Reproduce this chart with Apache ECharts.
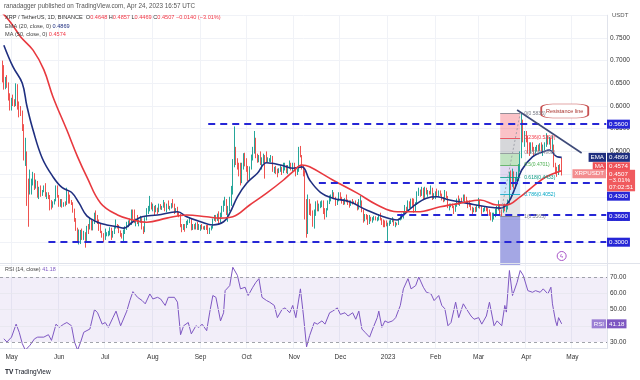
<!DOCTYPE html>
<html><head><meta charset="utf-8">
<script src="https://cdn.jsdelivr.net/npm/echarts@6/dist/echarts.min.js"></script>
<style>html,body{margin:0;padding:0;background:#fff}#c{width:640px;height:380px}</style>
</head><body><div id="c"></div>
<script>
// ---------- DATA (XRP/USDT daily, Binance) ----------
const axisStart = '2022-04-24';      // first slot of the time scale
const axisDays = 395;                // slots on the time scale (incl. right margin)
const firstCandleDate = '2022-04-25';
const firstOpen = 0.695;             // each later candle opens at the previous close
const closes = [
 .686,.643,.656,.650,.620,.597,
 .613,.610,.603,.645,.605,.597,.585,.555,.490,.490,.425,.418,.425,.432,.452,.422,.430,.400,.418,.407,.412,.420,.404,.404,.400,.391,.381,.385,.392,.420,.402,
 .383,.392,.381,.386,.384,.410,.402,.390,.385,.370,.350,.330,.306,.322,.323,.308,.318,.312,.333,.330,.345,.330,.343,.360,.355,.345,.330,.322,.316,.312,
 .316,.320,.322,.330,.316,.320,.333,.336,.335,.325,.318,.311,.325,.330,.340,.345,.340,.366,.362,.345,.350,.342,.345,.352,.333,.324,.350,.368,.371,.380,.375,
 .377,.370,.371,.369,.381,.376,.377,.385,.372,.380,.376,.376,.382,.380,.370,.372,.362,.360,.338,.329,.338,.337,.343,.345,.350,.330,.338,.330,.340,.330,.330,
 .335,.332,.330,.335,.332,.321,.330,.333,.350,.356,.350,.357,.350,.360,.372,.385,.392,.365,.375,.395,.410,.478,.492,.480,.468,.455,.440,.472,.490,.482,
 .462,.443,.463,.488,.500,.520,.490,.482,.488,.478,.480,.490,.482,.480,.480,.482,.487,.460,.460,.458,.456,.460,.462,.455,.462,.466,.458,.465,.472,.462,.468,
 .460,.452,.458,.505,.490,.463,.452,.385,.320,.390,.382,.365,.345,.360,.382,.372,.380,.380,.388,.370,.362,.372,.388,.400,.400,.407,.398,.385,.392,.405,
 .398,.392,.385,.395,.392,.390,.383,.390,.385,.388,.385,.380,.385,.390,.370,.350,.360,.356,.342,.355,.350,.350,.355,.350,.352,.358,.352,.347,.345,.342,.338,
 .340,.345,.347,.350,.338,.341,.340,.350,.353,.360,.366,.375,.372,.388,.380,.392,.384,.370,.386,.410,.412,.408,.415,.400,.418,.410,.412,.410,.420,.398,.405,
 .410,.405,.412,.405,.398,.392,.412,.400,.378,.380,.382,.378,.370,.380,.394,.385,.393,.392,.398,.396,.390,.385,.380,.376,.368,.374,.370,.376,
 .392,.378,.370,.372,.374,.372,.368,.362,.352,.362,.362,.370,.372,.378,.368,.366,.380,.372,.380,.390,.450,.428,.453,.430,.440,.450,.465,.490,.545,.536,.538,
 .530,.510,.500,.515,.505,.500,.505,.510,.508,.515,.505,.508,.515,.530,.520,.527,.510,.515,.470,.460,.452,.466,.4648,.4507
];
const highs = [
 .700,.690,.664,.668,.652,.628,
 .618,.625,.615,.650,.648,.610,.600,.590,.560,.530,.500,.440,.460,.440,.455,.452,.438,.435,.422,.425,.415,.425,.430,.410,.410,.404,.393,.390,.395,.425,.425,
 .404,.395,.395,.388,.390,.420,.412,.405,.393,.388,.374,.353,.332,.328,.327,.330,.325,.322,.336,.340,.355,.350,.347,.365,.370,.360,.350,.340,.325,.320,
 .330,.322,.325,.333,.332,.325,.336,.350,.340,.338,.326,.320,.328,.335,.345,.348,.352,.372,.372,.372,.352,.360,.350,.358,.353,.335,.355,.375,.380,.402,.388,
 .385,.380,.382,.376,.385,.384,.380,.393,.388,.385,.392,.380,.386,.395,.385,.375,.378,.367,.362,.340,.340,.340,.347,.350,.355,.352,.340,.340,.343,.345,.340,
 .338,.340,.335,.336,.338,.338,.332,.336,.352,.360,.360,.363,.368,.365,.380,.392,.400,.395,.380,.400,.424,.483,.555,.510,.485,.475,.475,.475,.496,.497,
 .485,.468,.467,.493,.510,.545,.530,.495,.492,.500,.487,.495,.492,.500,.487,.485,.492,.490,.466,.468,.462,.463,.470,.466,.475,.475,.470,.470,.480,.475,.475,
 .475,.465,.462,.510,.512,.492,.470,.458,.395,.405,.395,.385,.370,.372,.390,.392,.385,.390,.392,.392,.375,.375,.392,.403,.405,.415,.410,.400,.395,.410,
 .410,.400,.395,.397,.405,.394,.392,.392,.395,.390,.392,.388,.395,.402,.392,.372,.362,.362,.360,.360,.356,.355,.358,.357,.355,.362,.365,.353,.350,.348,.348,
 .343,.348,.350,.355,.352,.345,.343,.352,.360,.363,.368,.382,.378,.392,.390,.396,.397,.396,.388,.412,.420,.416,.422,.420,.422,.420,.415,.413,.425,.420,.408,
 .412,.418,.414,.414,.407,.400,.415,.412,.402,.385,.385,.385,.380,.385,.396,.403,.396,.398,.405,.405,.400,.392,.392,.385,.378,.376,.378,.382,
 .398,.393,.380,.375,.378,.378,.376,.372,.366,.365,.365,.374,.380,.392,.384,.372,.383,.385,.385,.394,.455,.458,.462,.456,.443,.455,.472,.500,.5836,.570,.545,
 .545,.535,.520,.520,.520,.510,.510,.514,.515,.518,.520,.515,.520,.540,.535,.532,.530,.535,.515,.475,.466,.470,.472,.4857
];
const lows = [
 .652,.636,.637,.640,.612,.590,
 .590,.600,.598,.600,.592,.575,.578,.545,.480,.468,.380,.334,.405,.405,.425,.415,.418,.398,.395,.400,.402,.410,.400,.395,.395,.370,.372,.376,.383,.390,.398,
 .378,.378,.376,.378,.379,.382,.385,.385,.382,.365,.345,.325,.298,.295,.296,.305,.305,.288,.300,.318,.328,.326,.326,.340,.348,.340,.325,.320,.310,.300,
 .305,.313,.313,.315,.305,.310,.318,.330,.330,.320,.312,.308,.301,.318,.327,.333,.338,.338,.350,.342,.335,.340,.335,.343,.328,.318,.322,.348,.362,.368,.372,
 .368,.360,.366,.362,.366,.372,.371,.376,.368,.366,.373,.370,.374,.376,.362,.365,.358,.355,.333,.322,.327,.323,.331,.338,.342,.326,.327,.328,.328,.327,.327,
 .325,.328,.328,.327,.327,.318,.318,.326,.330,.347,.345,.347,.340,.343,.355,.367,.380,.360,.345,.368,.380,.405,.465,.470,.460,.445,.425,.430,.460,.467,
 .455,.435,.438,.460,.480,.495,.485,.475,.476,.470,.460,.474,.440,.476,.476,.477,.476,.455,.452,.450,.443,.452,.455,.448,.452,.458,.452,.450,.462,.458,.455,
 .456,.445,.448,.455,.487,.460,.445,.350,.310,.318,.360,.358,.334,.330,.358,.368,.368,.375,.377,.362,.350,.355,.370,.384,.390,.397,.395,.380,.382,.390,
 .395,.385,.382,.383,.388,.382,.376,.380,.383,.384,.383,.370,.372,.380,.366,.343,.346,.350,.338,.340,.346,.343,.348,.348,.346,.348,.348,.338,.333,.333,.335,
 .302,.336,.340,.344,.336,.333,.337,.338,.348,.350,.352,.362,.365,.370,.375,.375,.380,.365,.368,.382,.402,.400,.402,.395,.395,.405,.400,.405,.405,.393,.395,
 .395,.402,.400,.402,.392,.388,.390,.397,.375,.370,.377,.375,.362,.367,.378,.382,.380,.388,.390,.388,.385,.375,.378,.370,.362,.366,.366,.367,
 .375,.374,.362,.366,.368,.368,.360,.358,.348,.345,.350,.355,.360,.370,.360,.3565,.365,.368,.366,.372,.382,.415,.422,.418,.418,.435,.435,.455,.485,.520,.510,
 .520,.495,.490,.495,.500,.490,.495,.500,.500,.500,.500,.490,.502,.510,.515,.515,.505,.500,.465,.450,.444,.448,.455,.4469
];
// indicator values: [day number since axisStart, value]
const ema20 = [[2,0.734],[8,0.686],[14,0.65],[17,0.60],[21,0.547],[27,0.485],[34,0.444],[40,0.42],[46,0.41],[51,0.386],[56,0.358],[63,0.344],[69,0.338],[76,0.334],[80,0.331],[86,0.345],[92,0.356],[102,0.36],[115,0.367],[121,0.356],[130,0.345],[138,0.338],[145,0.345],[149,0.364],[154,0.40],[160,0.43],[167,0.452],[173,0.475],[182,0.47],[190,0.463],[196,0.466],[201,0.437],[208,0.41],[216,0.397],[227,0.389],[238,0.371],[249,0.356],[258,0.349],[262,0.36],[268,0.378],[277,0.397],[284,0.40],[292,0.393],[303,0.386],[316,0.378],[325,0.375],[330,0.386],[335,0.422],[339,0.459],[346,0.488],[353,0.499],[357,0.503],[362,0.488],[365,0.4869]];
const ma50 = [[1,0.805],[5,0.79],[9,0.772],[13,0.752],[21,0.723],[28,0.68],[34,0.62],[43,0.547],[50,0.488],[56,0.444],[65,0.386],[76,0.36],[86,0.349],[95,0.344],[108,0.353],[121,0.36],[134,0.356],[143,0.353],[151,0.356],[162,0.382],[173,0.408],[184,0.437],[190,0.455],[196,0.47],[201,0.466],[216,0.437],[232,0.408],[245,0.382],[258,0.367],[271,0.367],[286,0.378],[299,0.386],[312,0.393],[323,0.382],[329,0.382],[338,0.40],[346,0.422],[355,0.444],[365,0.4574]];
const rsi14 = [[2,32],[4,30],[7,33],[10,41],[12,36],[14,29],[16,25],[17,24],[19,28],[22,32],[24,33],[28,33],[31,34.5],[33,31],[36,41],[38,39],[41,41],[43,42],[46,40],[48,30],[50,25],[52,30],[54,36],[58,38],[61,50],[63,48],[66,41],[68,42],[70,39],[73,45],[75,49],[78,40],[82,49],[84,55.5],[86,61],[89,57.5],[92,55.5],[94,53.5],[97,59.6],[99,56.5],[102,57.5],[104,56.5],[107,52.5],[109,57.5],[113,57.5],[115,54.5],[117,34.5],[119,40],[122,42],[124,35],[127,40],[129,39],[131,41],[134,37],[136,48.4],[138,58.6],[140,57.5],[143,43],[145,48],[146,61.6],[149,64.7],[151,76],[154,71],[156,62.7],[159,63.7],[161,58.6],[164,63.7],[166,66.7],[168,69],[170,57.5],[173,55.5],[175,54.5],[178,52.5],[180,45],[183,50],[185,51],[188,48],[190,52.5],[192,45],[195,62.7],[197,46],[199,27],[201,34],[204,42],[206,41],[209,43],[211,41],[214,48],[216,49],[219,51],[221,47],[224,48],[226,46],[229,48],[231,44],[233,49],[235,38],[237,36],[240,33],[242,38],[245,45],[246,49],[248,39],[250,43],[252,42],[255,43],[257,45],[260,52.5],[262,62.7],[265,69],[267,62.7],[270,64.7],[272,70],[275,63.7],[277,60.6],[280,59.6],[282,55.5],[285,58.6],[287,52.5],[289,50.4],[291,40],[293,42],[296,54.5],[298,45],[301,53.5],[303,50.4],[306,46],[308,44],[311,45],[313,41],[316,46],[318,54.5],[321,40],[323,43],[326,40],[328,52.5],[329,48.4],[331,74],[333,58.6],[336,66.7],[338,74],[340,71],[343,61.6],[346,60.6],[348,61.6],[351,60.6],[353,62.7],[356,59.6],[358,63.7],[359,53.5],[361,43],[362,40],[363,45],[364,44],[365,41.18]];
// drawings
const supportLines = [{price:0.56, from:'2022-09-06'},{price:0.43, from:'2022-11-17'},{price:0.36, from:'2023-01-07'},{price:0.30, from:'2022-05-25'}];
const resistanceLine = {from:['2023-03-26',0.5912], to:['2023-05-07',0.4965], label:'Resistance line', labelAt:['2023-04-26',0.589]};
const fibFrom = '2023-03-15', fibTo = '2023-03-28';
const fibLevels = ['0','0.236','0.382','0.5','0.618','0.786','1'];
const fibPrices = [0.5836,0.5300,0.4968,0.4701,0.4433,0.4052,0.3565];
const eventMarker = ['2023-04-24',0.2696];
const priceTicks = {min:0.25, max:0.80, step:0.05};
const rsiTicks = {min:26, max:78, step:2};
const monthNames = ['Jan','Feb','Mar','Apr','May','Jun','Jul','Aug','Sep','Oct','Nov','Dec'];
const lastValues = {ema:0.4869, ma:0.4574, close:0.4507, rsi:41.18};

// ---------- BUILD ----------
const FONT = '"Liberation Sans", Arial, sans-serif';
const categories = [];
{ const t0 = Date.parse(axisStart + 'T00:00:00Z');
  for (let d = 0; d < axisDays; d++) categories.push(new Date(t0 + d*86400000).toISOString().slice(0,10)); }
const firstIdx = categories.indexOf(firstCandleDate);
const candles = closes.map((c,k) => [categories[firstIdx+k], k===0 ? firstOpen : closes[k-1], c, lows[k], highs[k]]);
const toCat = arr => arr.map(([d,v]) => [categories[d], v]);
const lastCat = categories[categories.length-1];
const isMonthStart = (i, v) => v.slice(8) === '01';
const monthLabel = v => v.slice(5) === '01-01' ? v.slice(0,4) : monthNames[+v.slice(5,7)-1];

const fibLineColors = ['#787b86','#f23645','#8d8f99','#4caf50','#089981','#00a5c4','#787b86'];
const fibBandColors = ['rgba(242,54,69,0.30)','rgba(120,123,134,0.30)','rgba(76,175,80,0.35)','rgba(149,117,205,0.28)','rgba(33,150,243,0.22)','rgba(120,123,134,0.20)'];

const markLineData = [];
supportLines.forEach(s => markLineData.push([
  {coord:[s.from, s.price], lineStyle:{color:'#2626d6', width:2, type:[7,5]}}, {coord:[lastCat, s.price]}]));
markLineData.push([{coord:resistanceLine.from, lineStyle:{color:'#3e4a78', width:1.6, type:'solid'}}, {coord:resistanceLine.to}]);
fibPrices.forEach((p,k) => markLineData.push([
  {coord:[fibFrom,p], lineStyle:{color:fibLineColors[k], width:0.8, type:'solid'},
   label:{show:true, position:'end', distance:4, formatter: fibLevels[k]+'('+p.toFixed(4)+')', color:fibLineColors[k], fontSize:5, fontFamily:FONT}},
  {coord:[fibTo,p]}]));
markLineData.push([{coord:[fibFrom, fibPrices[6]], lineStyle:{color:'#9598a1', width:0.8, type:[2,2]}}, {coord:[fibTo, fibPrices[0]]}]);

const markAreaData = [];
for (let k = 0; k < 6; k++) markAreaData.push([{coord:[fibFrom, fibPrices[k]], itemStyle:{color:fibBandColors[k]}}, {coord:[fibTo, fibPrices[k+1]]}]);
markAreaData.push([{coord:[fibFrom, fibPrices[6]], itemStyle:{color:'rgba(90,95,205,0.55)'}}, {coord:[fibTo, priceTicks.min]}]);

const chart = echarts.init(document.getElementById('c'), null, {renderer:'canvas'});
const splitLineX = {show:true, interval:isMonthStart, lineStyle:{color:'#f0f2f7', width:1}};
const option = {
  animation:false,
  backgroundColor:'#ffffff',
  textStyle:{fontFamily:FONT},
  grid:[
    {left:0, right:33, top:15.2, height:249.7, outerBoundsMode:'none', containLabel:false},
    {left:0, right:33, top:264, height:84.5, outerBoundsMode:'none', containLabel:false}
  ],
  xAxis:[
    {type:'category', gridIndex:0, data:categories, boundaryGap:true, axisLine:{show:false}, axisTick:{show:false}, axisLabel:{show:false}, splitLine:splitLineX},
    {type:'category', gridIndex:1, data:categories, boundaryGap:true,
     axisLine:{show:true, lineStyle:{color:'#e0e3eb'}}, axisTick:{show:false},
     axisLabel:{show:true, interval:isMonthStart, formatter:monthLabel, fontSize:6.5, color:'#333', margin:5, fontFamily:FONT},
     splitLine:splitLineX}
  ],
  yAxis:[
    {type:'value', gridIndex:0, position:'right', min:priceTicks.min, max:priceTicks.max, interval:priceTicks.step,
     axisLine:{show:true, lineStyle:{color:'#e0e3eb'}}, axisTick:{show:false},
     axisLabel:{fontSize:6.5, color:'#333', margin:3, formatter:v=>v.toFixed(4), showMinLabel:false, showMaxLabel:false, fontFamily:FONT},
     splitLine:{show:true, lineStyle:{color:'#f0f2f7'}}},
    {type:'value', gridIndex:1, position:'right', min:rsiTicks.min, max:rsiTicks.max, interval:rsiTicks.step,
     axisLine:{show:true, lineStyle:{color:'#e0e3eb'}}, axisTick:{show:false},
     axisLabel:{fontSize:6.5, color:'#333', margin:3, fontFamily:FONT,
       formatter:v=>{const r=Math.round(v); return (Math.abs(v-r)<1e-6 && r%10===0) ? r.toFixed(2) : '';}},
     splitLine:{show:false}}
  ],
  series:[
    {type:'candlestick', name:'XRPUSDT', xAxisIndex:0, yAxisIndex:0, data:candles, encode:{x:0, y:[1,2,3,4]},
     barWidth:0.6,
     itemStyle:{color:'#26a69a', color0:'#ef5350', borderColor:'#26a69a', borderColor0:'#ef5350', borderWidth:1},
     markArea:{silent:true, data:markAreaData},
     markLine:{silent:true, symbol:['none','none'], label:{show:false}, data:markLineData, z:5},
     markPoint:{silent:true, data:[
       {coord:resistanceLine.labelAt, symbol:'roundRect', symbolSize:[47,14],
        itemStyle:{color:'#ffffff', borderColor:'#c75050', borderWidth:1},
        label:{show:true, position:'inside', formatter:resistanceLine.label, color:'#a8322c', fontSize:5.5, fontFamily:FONT}},
       {coord:eventMarker, symbol:'circle', symbolSize:9,
        itemStyle:{color:'#ffffff', borderColor:'#a855c8', borderWidth:1},
        label:{show:true, position:'inside', formatter:'ϟ', color:'#a855c8', fontSize:6, fontWeight:'bold'}}
     ]}},
    {type:'line', name:'EMA20', xAxisIndex:0, yAxisIndex:0, data:toCat(ema20), smooth:0.4, showSymbol:false,
     lineStyle:{color:'#1f2f80', width:1.6}, z:3},
    {type:'line', name:'MA50', xAxisIndex:0, yAxisIndex:0, data:toCat(ma50), smooth:0.4, showSymbol:false,
     lineStyle:{color:'#e8393f', width:1.6}, z:3},
    {type:'line', name:'RSI', xAxisIndex:1, yAxisIndex:1, data:toCat(rsi14), smooth:false, showSymbol:false,
     lineStyle:{color:'#7e57c2', width:1},
     markArea:{silent:true, itemStyle:{color:'rgba(126,87,194,0.10)'}, data:[[{yAxis:30},{yAxis:70}]]},
     markLine:{silent:true, symbol:['none','none'], label:{show:false}, data:[
       {yAxis:70, lineStyle:{color:'#8a8d96', width:0.8, type:[3,3]}},
       {yAxis:30, lineStyle:{color:'#8a8d96', width:0.8, type:[3,3]}},
       {yAxis:60, lineStyle:{color:'#e6e6ee', width:0.8, type:'solid'}},
       {yAxis:50, lineStyle:{color:'#e6e6ee', width:0.8, type:'solid'}},
       {yAxis:40, lineStyle:{color:'#e6e6ee', width:0.8, type:'solid'}}
     ]}}
  ]
};
chart.setOption(option);

// ---------- price-scale tags and header text ----------
const py = v => chart.convertToPixel({yAxisIndex:0}, v);
const ry = v => chart.convertToPixel({yAxisIndex:1}, v);
const g = [];
function tag(y, text, bg, x, align, lh) {
  g.push({type:'text', x:x, y:y, z:200, silent:true,
    style:{text:text, fill:'#ffffff', font:'6.2px '+FONT, backgroundColor:bg, padding:[1,2,1,2],
      align:align||'left', verticalAlign:'middle', lineHeight:lh||7}});
}
function txt(x, y, text, rich, size) {
  g.push({type:'text', x:x, y:y, z:200, silent:true,
    style:{text:text, font:(size||5.5)+'px '+FONT, fill:'#555', verticalAlign:'middle', rich:rich||{}}});
}
tag(py(0.56), '0.5600', '#2626d6', 607);
tag(py(0.30), '0.3000', '#2626d6', 607);
tag(py(0.36)+1.5, '0.3600', '#2626d6', 607);
tag(py(0.43)+13, '0.4300', '#2626d6', 607);
tag(py(lastValues.ema), lastValues.ema.toFixed(4), '#1f2f80', 607);
tag(py(lastValues.ema), 'EMA', '#1f2f80', 606, 'right');
tag(py(lastValues.ma)-4, lastValues.ma.toFixed(4), '#ef5057', 607);
tag(py(lastValues.ma)-4, 'MA', '#ef5057', 606, 'right');
g.push({type:'text', x:607, y:py(lastValues.close)-4, z:201, silent:true,
  style:{text:lastValues.close.toFixed(4)+'\n−3.01%\n07:02:51', fill:'#fff', font:'6.2px '+FONT,
    backgroundColor:'#f05a5e', padding:[1,2,1,2], align:'left', verticalAlign:'top', lineHeight:6.5}});
tag(py(lastValues.close), 'XRPUSDT', '#f38d8f', 606, 'right');
tag(ry(lastValues.rsi), lastValues.rsi.toFixed(2), '#7e57c2', 607);
tag(ry(lastValues.rsi), 'RSI', '#9b7fd4', 606, 'right');

txt(4, 6, 'ranadagger published on TradingView.com, Apr 24, 2023 16:57 UTC', null, 6.3);
txt(5, 17.5, '{k|XRP / TetherUS, 1D, BINANCE  O}{r|0.4648} {k|H}{r|0.4857} {k|L}{r|0.4469} {k|C}{r|0.4507} {r|−0.0140 (−3.01%)}',
  {k:{fill:'#333', font:'5.6px '+FONT}, r:{fill:'#f23645', font:'5.6px '+FONT}});
txt(5, 26.5, '{k|EMA (20, close, 0)} {b|0.4869}', {k:{fill:'#444', font:'5.6px '+FONT}, b:{fill:'#1f2f80', font:'5.6px '+FONT}});
txt(5, 34.5, '{k|MA (50, close, 0)} {r|0.4574}', {k:{fill:'#444', font:'5.6px '+FONT}, r:{fill:'#f23645', font:'5.6px '+FONT}});
txt(5, 270, '{k|RSI (14, close)} {p|41.18}', {k:{fill:'#444', font:'5.4px '+FONT}, p:{fill:'#7e57c2', font:'5.4px '+FONT}});
txt(612, 15, 'USDT', {}, 6);
txt(5, 372.5, '{l|TV} {k|TradingView}', {l:{fill:'#131722', font:'bold 6.5px '+FONT}, k:{fill:'#131722', font:'6.5px '+FONT}});
g.push({type:'line', z:150, silent:true, shape:{x1:0, y1:263.5, x2:640, y2:263.5}, style:{stroke:'#e0e3eb', lineWidth:1}});
chart.setOption({graphic:g});
</script>
</body></html>
